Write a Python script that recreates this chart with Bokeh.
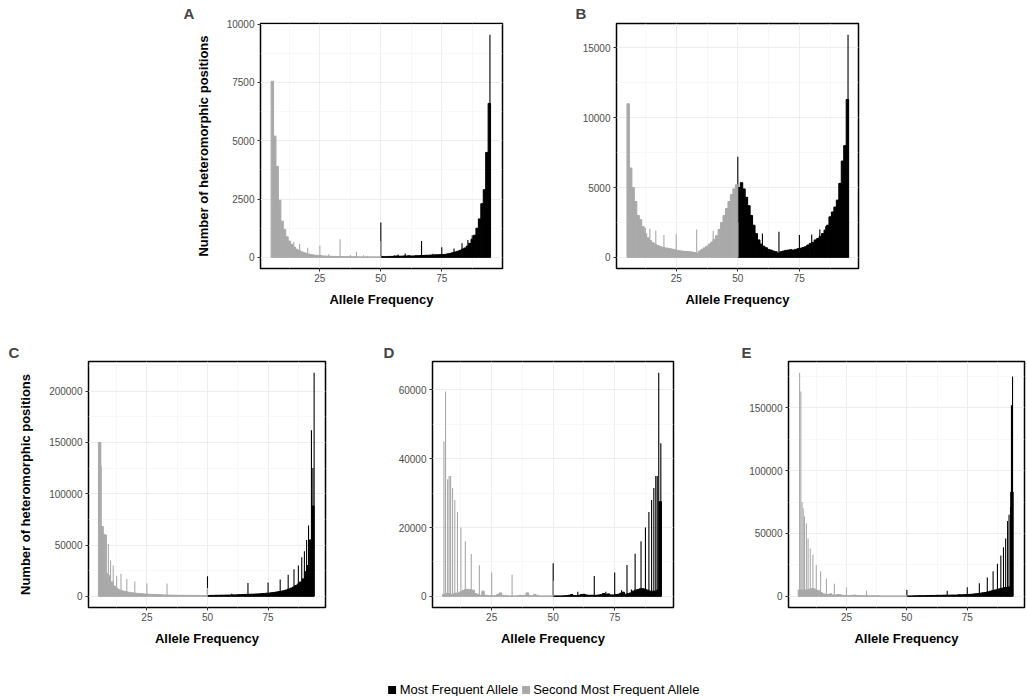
from bokeh.plotting import figure
from bokeh.layouts import row, column
from bokeh.models import Range1d, FixedTicker, BasicTickFormatter, Legend, LegendItem, ColumnDataSource
from bokeh.embed import file_html
from bokeh.resources import INLINE

FONT = "Liberation Sans"
BLACK = "#000000"
GREY = "#A9A9A9"

# left edges of the 1-unit bins
GREY_BINS = list(range(5, 50))
BLACK_BINS = list(range(50, 95))
X_TICKS = [25, 50, 75]
X_MINOR = [12.5, 37.5, 62.5, 87.5]

LEGEND_LABELS = ["Most Frequent Allele", "Second Most Frequent Allele"]
X_TITLE = "Allele Frequency"
Y_TITLE = "Number of heteromorphic positions"

# ---------------- Panel A ----------------
A_grey = [7550, 5200, 3900, 2450, 1550, 1200, 880, 700, 560, 440, 350, 290, 240, 200, 170,
          140, 120, 100, 90, 80, 70, 60, 55, 50, 45, 40, 40, 35, 35, 30,
          30, 30, 25, 25, 25, 25, 20, 20, 20, 20, 20, 20, 20, 20, 20]
A_black = [40, 30, 30, 40, 40, 50, 60, 50, 50, 60, 60, 70, 60, 60, 70,
           70, 80, 80, 90, 90, 100, 100, 110, 110, 120, 120, 130, 150, 170, 200,
           230, 260, 300, 350, 400, 480, 600, 780, 950, 1250, 1650, 2300, 2900, 4500, 6600]
A_grey_spk_x = [5.6, 14.3, 16.7, 20, 25, 28.6, 33.3, 37.5, 40, 42.9, 44.4, 50]
A_grey_spk_y = [6350, 670, 570, 410, 500, 130, 780, 100, 240, 90, 60, 700]
A_black_spk_x = [50, 55.6, 57.1, 60, 66.7, 71.4, 75, 80, 83.3, 85.7, 87.5, 94.75]
A_black_spk_y = [1500, 80, 120, 170, 700, 150, 430, 380, 600, 740, 950, 9550]
A_yticks = [0, 2500, 5000, 7500, 10000]

# ---------------- Panel B ----------------
B_grey = [11000, 6400, 5000, 4000, 3000, 2700, 2200, 1700, 1400, 1200, 1050, 950, 850, 780, 720,
          680, 650, 620, 580, 540, 500, 470, 450, 430, 420, 400, 380, 340, 300, 450,
          580, 680, 800, 950, 1100, 1300, 1550, 2000, 2500, 3000, 3500, 4000, 4500, 4900, 5200]
B_black = [5000, 5350, 4900, 4300, 3700, 3000, 2300, 1700, 1250, 950, 800, 690, 570, 520, 450,
           400, 300, 400, 450, 500, 520, 550, 520, 570, 620, 650, 700, 760, 880, 1000,
           1070, 1250, 1350, 1500, 1700, 1950, 2300, 2900, 3250, 3600, 4100, 5300, 6900, 8000, 11300]
B_grey_spk_x = [5.6, 12.5, 14.3, 16.7, 20, 25, 33.3, 40, 50]
B_grey_spk_y = [9500, 2100, 2050, 1900, 1600, 1650, 2000, 1900, 2500]
B_black_spk_x = [50, 60, 66.7, 75, 80, 83.3, 85.7, 87.5, 94.75]
B_black_spk_y = [7200, 1700, 1830, 1600, 1640, 2000, 2230, 2500, 15950]
B_yticks = [0, 5000, 10000, 15000]

# ---------------- Panel C ----------------
C_grey = [150000, 68000, 60000, 22000, 20000, 14000, 10000, 8000, 6500, 5500, 5000, 4500, 4000, 3600, 3300,
          3000, 2800, 2600, 2400, 2200, 2000, 1900, 1800, 1700, 1600, 1500, 1400, 1300, 1200, 1150,
          1100, 1050, 1000, 1000, 950, 950, 900, 900, 900, 850, 850, 850, 800, 800, 800]
C_black = [800, 900, 900, 1000, 1000, 1100, 1100, 1200, 1200, 1300, 1400, 1400, 1500, 1600, 1700,
           1800, 1900, 2000, 2100, 2200, 2300, 2400, 2600, 2800, 3000, 3200, 3500, 3800, 4200, 4600,
           5000, 5500, 6200, 7000, 8000, 9000, 10500, 12000, 14000, 17000, 24000, 30000, 55000, 88000]
C_grey_spk_x = [6.1, 8.3, 9.1, 10, 11.1, 12.5, 14.3, 16.7, 20, 25, 33.3, 50]
C_grey_spk_y = [127000, 60000, 51000, 35000, 30000, 20000, 22000, 17000, 14500, 12500, 12500, 8000]
C_black_spk_x = [50, 60, 66.7, 75, 80, 83.3, 85.7, 87.5, 88.9, 90, 90.9, 91.7, 92.9, 93.5, 94.0]
C_black_spk_y = [19500, 2500, 13000, 13500, 16500, 21000, 26500, 30000, 38000, 44000, 55000, 69000,
                 162000, 125000, 218000]
C_yticks = [0, 50000, 100000, 150000, 200000]

# ---------------- Panel D ----------------
D_grey = [500, 800, 800, 600, 700, 900, 1000, 1300, 1700, 2000, 2000, 1900, 1800, 800, 500,
          300, 1500, 300, 200, 150, 150, 150, 500, 1000, 300, 200, 150, 100, 100, 100,
          150, 300, 200, 300, 1000, 200, 100, 500, 300, 100, 100, 100, 100, 100, 100]
D_black = [100, 100, 100, 100, 150, 200, 300, 500, 200, 200, 300, 500, 600, 400, 300,
           300, 300, 300, 400, 500, 800, 600, 700, 400, 400, 500, 600, 900, 1200, 600,
           800, 1000, 1500, 1800, 2000, 2200, 2200, 2000, 1800, 1500, 1500, 1500, 1800, 27500]
D_grey_spk_x = [5.6, 6.25, 7.1, 7.7, 8.3, 9.1, 10, 11.1, 12.5, 14.3, 16.7, 20, 25, 33.3, 50]
D_grey_spk_y = [45000, 59500, 34000, 35000, 35000, 31500, 28000, 24500, 20000, 16000, 12300, 9000,
                7000, 6300, 4500]
D_black_spk_x = [50, 60, 66.7, 71.4, 75, 77.8, 80, 81.8, 83.3, 85.7, 87.5, 88.9, 90, 90.9, 91.7,
                 92.3, 92.9, 93.75]
D_black_spk_y = [9600, 1300, 5900, 1300, 6900, 1800, 9100, 2000, 12400, 16000, 20000, 24500, 28000,
                 31500, 35000, 35000, 65000, 44500]
D_yticks = [0, 20000, 40000, 60000]

# ---------------- Panel E ----------------
E_grey = [5000, 5000, 5000, 5000, 5500, 6000, 6000, 5000, 4500, 3000, 2000, 1500, 1500, 2000, 1000,
          1000, 1500, 1200, 800, 600, 500, 500, 800, 1000, 600, 500, 400, 400, 400, 400,
          400, 400, 400, 400, 300, 300, 300, 300, 300, 300, 300, 300, 300, 300, 300]
E_black = [300, 300, 300, 400, 400, 500, 500, 500, 600, 600, 700, 700, 800, 800, 800,
           900, 900, 900, 1000, 1000, 1000, 1200, 1200, 1300, 1400, 1500, 1600, 1800, 2000, 2200,
           2500, 2800, 3000, 3500, 4000, 4500, 5000, 5500, 6000, 6500, 7000, 7000, 7500, 83000]
E_grey_spk_x = [5.6, 6.1, 6.6, 7.1, 7.6, 8.4, 9.1, 10, 11.1, 12.5, 14.3, 16.7, 20, 25, 33.3, 50]
E_grey_spk_y = [178000, 163000, 75000, 70000, 63500, 58000, 46000, 38000, 33000, 25000, 20000, 14000,
                10000, 7000, 4500, 1000]
E_black_spk_x = [50, 66.7, 75, 80, 83.3, 85.7, 87.5, 88.9, 90, 90.9, 91.7, 92.3, 92.9, 93.3, 93.75]
E_black_spk_y = [5000, 4500, 7300, 10500, 15000, 20000, 26000, 32500, 39000, 46000, 60000, 65000,
                 71000, 152000, 175000]
E_yticks = [0, 50000, 100000, 150000]


def bar_sources(grey, black, gsx, gsy, bsx, bsy):
    gb = GREY_BINS[:len(grey)]
    kb = BLACK_BINS[:len(black)]
    return (ColumnDataSource(dict(x=[b + 0.5 for b in gb], top=grey)),
            ColumnDataSource(dict(x=[b + 0.5 for b in kb], top=black)),
            ColumnDataSource(dict(x=gsx, top=gsy)),
            ColumnDataSource(dict(x=bsx, top=bsy)))


def make_panel(letter, grey, black, gsx, gsy, bsx, bsy, yticks, xr, ytitle,
               fw, fh, bl, br, bt, bb, title_offset, title_standoff):
    ymax = max(max(grey), max(black), max(gsy), max(bsy))
    step = yticks[1] - yticks[0]
    yminor = [t + step / 2 for t in yticks]
    p = figure(frame_width=fw, frame_height=fh,
               min_border_left=bl, min_border_right=br, min_border_top=bt, min_border_bottom=bb,
               x_range=Range1d(*xr), y_range=Range1d(-0.05 * ymax, 1.05 * ymax),
               output_backend="svg", toolbar_location=None, title=letter,
               background_fill_color="white", border_fill_color="white")
    p.title.text_font = FONT
    p.title.text_font_size = "15px"
    p.title.text_font_style = "bold"
    p.title.align = "left"
    p.title.offset = title_offset
    p.title.standoff = title_standoff

    src_g, src_k, src_gs, src_ks = bar_sources(grey, black, gsx, gsy, bsx, bsy)

    p.vbar(x="x", top="top", bottom=0, width=1.0, source=src_k,
           fill_color=BLACK, line_color=BLACK, line_width=1.0)
    p.vbar(x="x", top="top", bottom=0, width=0.45, source=src_ks,
           fill_color=BLACK, line_color=None)
    p.vbar(x="x", top="top", bottom=0, width=1.0, source=src_g,
           fill_color=GREY, line_color=GREY, line_width=1.0)
    p.vbar(x="x", top="top", bottom=0, width=0.45, source=src_gs,
           fill_color=GREY, line_color=None)

    p.xaxis.ticker = FixedTicker(ticks=X_TICKS, minor_ticks=X_MINOR)
    p.yaxis.ticker = FixedTicker(ticks=yticks, minor_ticks=yminor)
    p.yaxis.formatter = BasicTickFormatter(use_scientific=False)
    for ax in (p.xaxis, p.yaxis):
        ax.axis_line_color = None
        ax.major_tick_line_color = "#333333"
        ax.major_tick_out = 3
        ax.major_tick_in = 0
        ax.minor_tick_line_color = None
        ax.major_label_text_font = FONT
        ax.major_label_text_font_size = "10px"
        ax.major_label_text_color = "#4D4D4D"
        ax.axis_label_text_font = FONT
        ax.axis_label_text_font_size = "13px"
        ax.axis_label_text_font_style = "bold"
        ax.axis_label_text_color = "#000000"
    p.xaxis.axis_label = X_TITLE
    p.xaxis.major_label_standoff = 1
    p.xaxis.axis_label_standoff = 7
    if ytitle:
        p.yaxis.axis_label = ytitle
    p.yaxis.major_label_standoff = 2
    p.yaxis.axis_label_standoff = 13

    for g in (p.xgrid, p.ygrid):
        g.grid_line_color = "#EBEBEB"
        g.grid_line_width = 0.9
        g.minor_grid_line_color = "#F3F3F3"
        g.minor_grid_line_width = 0.6
    p.outline_line_color = "#000000"
    p.outline_line_width = 1.5
    return p


pA = make_panel("A", A_grey, A_black, A_grey_spk_x, A_grey_spk_y, A_black_spk_x, A_black_spk_y,
                A_yticks, (0.65, 99.9), Y_TITLE, 242, 245, 260, 58, 23, 52, -77, 4)
pB = make_panel("B", B_grey, B_black, B_grey_spk_x, B_grey_spk_y, B_black_spk_x, B_black_spk_y,
                B_yticks, (0.75, 99.0), None, 242, 245, 56, 168, 23, 52, -41, 4)
pC = make_panel("C", C_grey, C_black, C_grey_spk_x, C_grey_spk_y, C_black_spk_x, C_black_spk_y,
                C_yticks, (0.9, 98.7), Y_TITLE, 237, 246, 88, 45, 41, 44, -80, 2)
pD = make_panel("D", D_grey, D_black, D_grey_spk_x, D_grey_spk_y, D_black_spk_x, D_black_spk_y,
                D_yticks, (0.95, 98.9), None, 241, 246, 62, 47, 41, 44, -49, 2)
pE = make_panel("E", E_grey, E_black, E_grey_spk_x, E_grey_spk_y, E_black_spk_x, E_black_spk_y,
                E_yticks, (1.0, 98.7), None, 236, 246, 68, 2, 41, 44, -47, 2)

# legend strip (its renderers draw panel A's bars, which lie outside this strip's range)
leg = figure(frame_width=400, frame_height=14, min_border_left=343, min_border_right=0,
             min_border_top=31, min_border_bottom=0, x_range=Range1d(0, 1), y_range=Range1d(0, 1),
             x_axis_location=None, y_axis_location=None, output_backend="svg",
             toolbar_location=None, background_fill_color="white", border_fill_color="white")
leg.outline_line_color = None
leg.xgrid.visible = False
leg.ygrid.visible = False
lg_g, lg_k, _, _ = bar_sources(A_grey, A_black, A_grey_spk_x, A_grey_spk_y, A_black_spk_x, A_black_spk_y)
r1 = leg.vbar(x="x", top="top", width=1, source=lg_k, fill_color=BLACK, line_color=None)
r2 = leg.vbar(x="x", top="top", width=1, source=lg_g, fill_color=GREY, line_color=None)
legend = Legend(items=[LegendItem(label=LEGEND_LABELS[0], renderers=[r1]),
                       LegendItem(label=LEGEND_LABELS[1], renderers=[r2])],
                orientation="horizontal", location="center",
                label_text_font=FONT, label_text_font_size="13px", label_text_color="#000000",
                glyph_width=10, glyph_height=10, label_standoff=3, spacing=2, padding=0, margin=0,
                label_height=12, border_line_color=None, background_fill_alpha=0)
leg.add_layout(legend, "center")

layout = column(row(pA, pB), row(pC, pD, pE), leg)
open("out.html", "w").write(file_html(layout, INLINE, title="Allele frequency histograms"))
